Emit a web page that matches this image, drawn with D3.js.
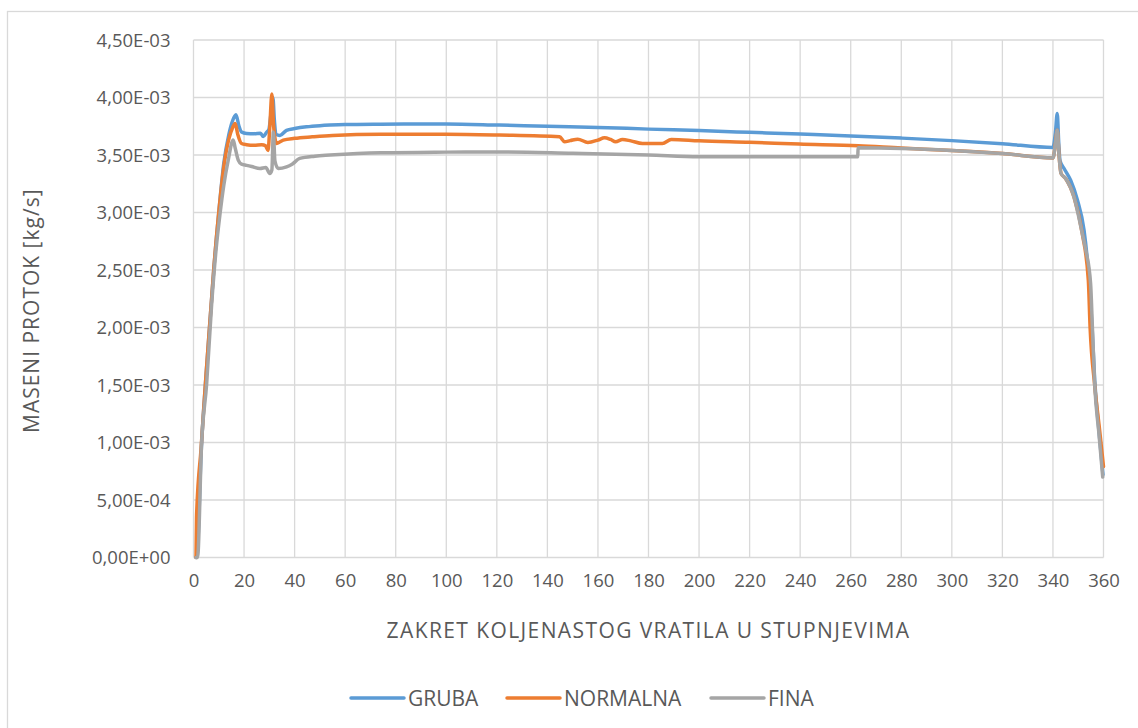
<!DOCTYPE html>
<html>
<head>
<meta charset="utf-8">
<script src="https://cdn.jsdelivr.net/npm/d3@7"></script>
<style>
  body { margin: 0; background: #fff; }
  svg text { font-family: "Open Sans", sans-serif; fill: #595959; }
</style>
</head>
<body>
<svg id="chart" width="1138" height="728"></svg>
<script>
// mass flow, values in 1e-3 kg/s, x = crank angle in degrees
var grubaPts = [
  [1,0],[1.5,0.05],[3,0.9],[5,1.6],[7,2.2],[8,2.5],[10,3.0],[12,3.43],[14,3.68],[15.5,3.8],[16.8,3.85],
  [18,3.75],[19,3.70],[21,3.687],[24,3.685],[26.5,3.69],[27.6,3.66],[29,3.70],[29.8,3.72],[30.6,3.85],
  [31.4,4.0],[32,3.8],[32.6,3.68],[34.2,3.67],[36.8,3.715],[40,3.73],[44.7,3.745],[50,3.755],[54,3.76],
  [60,3.765],[74,3.768],[100,3.77],[121,3.76],[140,3.75],[160,3.74],[180,3.725],[200,3.712],[220,3.697],
  [240,3.682],[260,3.666],[280,3.647],[300,3.625],[320,3.598],[340,3.565],[341,3.7],[341.7,3.86],[342.3,3.6],
  [342.8,3.45],[344.4,3.383],[347,3.28],[349.7,3.107],[352.3,2.846],[354.3,2.41],[355.5,2.0],[356.5,1.55],
  [358.2,1.1],[359.8,0.72]
];
var normalnaPts = [
  [1,0],[1.2,0.35],[3,0.95],[5,1.6],[7,2.2],[8,2.5],[10,3.0],[12,3.4],[14,3.64],[15.5,3.74],[16.5,3.774],
  [17.5,3.68],[19,3.60],[21,3.59],[24,3.585],[27,3.59],[28.5,3.58],[29.5,3.54],[30.2,3.75],[31,4.03],
  [31.7,3.75],[32.9,3.60],[35.5,3.63],[40,3.645],[47,3.658],[55,3.67],[74,3.68],[100,3.68],[121,3.673],
  [144.8,3.658],[146.8,3.615],[149,3.625],[152,3.638],[156,3.609],[160,3.63],[162.6,3.65],[165,3.635],
  [167,3.615],[169.7,3.635],[173,3.623],[177.6,3.60],[185.5,3.60],[189,3.635],[200,3.623],[220,3.61],
  [239.6,3.595],[263,3.58],[280,3.56],[300,3.54],[320,3.513],[340,3.475],[341,3.6],[341.7,3.716],
  [342.4,3.5],[343.2,3.34],[345,3.296],[348.3,3.136],[351.6,2.817],[354,2.41],[354.7,2.0],[356.5,1.5],
  [358.5,1.1],[360,0.79]
];
var finaPts = [
  [1,0],[1.6,0],[3.2,0.99],[5.2,1.51],[7.2,2.21],[8.9,2.67],[10.5,2.99],[12,3.24],[13.7,3.45],[15.7,3.63],
  [16.5,3.56],[17.7,3.455],[19,3.42],[21,3.41],[23,3.40],[26.3,3.383],[28.6,3.392],[30.2,3.34],[31,3.37],
  [31.6,3.70],[32.2,3.45],[33.5,3.383],[36.8,3.397],[39,3.42],[42,3.47],[48,3.49],[54,3.499],[74,3.519],
  [100,3.525],[121,3.527],[150,3.515],[180,3.50],[200,3.484],[240,3.484],[262.8,3.484],[262.9,3.562],
  [280,3.557],[300,3.54],[320,3.513],[340,3.475],[341,3.6],[341.7,3.716],[342.4,3.5],[343.2,3.34],
  [345,3.296],[348.3,3.136],[351.6,2.817],[353,2.672],[354.9,2.382],[355.6,2.004],[356.5,1.512],
  [358.2,1.077],[359.7,0.70]
];
var seriesNames = ["GRUBA", "NORMALNA", "FINA"];
var seriesColors = ["#5B9BD5", "#ED7D31", "#A5A5A5"];
var xTicks = d3.range(0, 361, 20);
var yTicks = [0, 0.0005, 0.001, 0.0015, 0.002, 0.0025, 0.003, 0.0035, 0.004, 0.0045];

var svg = d3.select("#chart");
var plotLeft = 193.5, plotRight = 1103.5, plotTop = 40, plotBottom = 557.5;

// outer chart border
svg.append("rect")
  .attr("x", 7.5).attr("y", 11.5)
  .attr("width", 1140).attr("height", 730)
  .attr("fill", "none").attr("stroke", "#d9d9d9").attr("stroke-width", 1.3);

var x = d3.scaleLinear().domain([0, 360]).range([plotLeft, plotRight]);
var y = d3.scaleLinear().domain([0, 0.0045]).range([plotBottom, plotTop]);

function sciLabel(v) {
  if (v === 0) return "0,00E+00";
  var e = Math.floor(Math.log10(v) + 1e-9);
  var m = v / Math.pow(10, e);
  var es = (e < 0 ? "-" : "+") + String(Math.abs(e)).padStart(2, "0");
  return m.toFixed(2).replace(".", ",") + "E" + es;
}

// grid
svg.append("g").selectAll("line").data(yTicks).enter().append("line")
  .attr("x1", plotLeft).attr("x2", plotRight)
  .attr("y1", function(d){ return y(d); }).attr("y2", function(d){ return y(d); })
  .attr("stroke", "#d9d9d9").attr("stroke-width", 1.3);
svg.append("g").selectAll("line").data(xTicks).enter().append("line")
  .attr("y1", plotTop).attr("y2", plotBottom)
  .attr("x1", function(d){ return x(d); }).attr("x2", function(d){ return x(d); })
  .attr("stroke", "#d9d9d9").attr("stroke-width", 1.3);

// axes labels
var yAxis = d3.axisLeft(y).tickValues(yTicks).tickFormat(sciLabel).tickSize(0).tickPadding(23);
var gy = svg.append("g").attr("transform", "translate(" + plotLeft + ",0)").call(yAxis);
gy.select(".domain").remove();
gy.selectAll("text").style("font-size", "18.5px").attr("dy", "0.35em");

var xAxis = d3.axisBottom(x).tickValues(xTicks).tickSize(0).tickPadding(16);
var gx = svg.append("g").attr("transform", "translate(0," + plotBottom + ")").call(xAxis);
gx.select(".domain").remove();
gx.selectAll("text").style("font-size", "18.5px");

svg.append("text")
  .attr("x", (plotLeft + plotRight) / 2).attr("y", 638)
  .attr("text-anchor", "middle").style("font-size", "21px").style("letter-spacing", "1.4px")
  .text("ZAKRET KOLJENASTOG VRATILA U STUPNJEVIMA");

svg.append("text")
  .attr("transform", "translate(39," + ((plotTop + plotBottom) / 2 + 12) + ") rotate(-90)")
  .attr("text-anchor", "middle").style("font-size", "21px").style("letter-spacing", "1px")
  .text("MASENI PROTOK [kg/s]");

// lines
var line = d3.line()
  .x(function(d){ return x(d[0]); })
  .y(function(d){ return y(d[1] * 1e-3); })
  .curve(d3.curveMonotoneX);

var allSeries = [grubaPts, normalnaPts, finaPts];
allSeries.forEach(function(pts, i) {
  svg.append("path")
    .datum(pts)
    .attr("d", line)
    .attr("fill", "none")
    .attr("stroke", seriesColors[i])
    .attr("stroke-width", 3.5)
    .attr("stroke-linejoin", "round")
    .attr("stroke-linecap", "round");
});

// legend
var legendX = [351, 507, 711];
var legend = svg.append("g").selectAll("g").data(seriesNames).enter().append("g")
  .attr("transform", function(d, i){ return "translate(" + legendX[i] + ",698)"; });
legend.append("line")
  .attr("x1", 0).attr("x2", 53).attr("y1", 0).attr("y2", 0)
  .attr("stroke", function(d, i){ return seriesColors[i]; })
  .attr("stroke-width", 3.5).attr("stroke-linecap", "round");
legend.append("text")
  .attr("x", 57).attr("y", 7.5)
  .style("font-size", "21px")
  .text(function(d){ return d; });
</script>
</body>
</html>
